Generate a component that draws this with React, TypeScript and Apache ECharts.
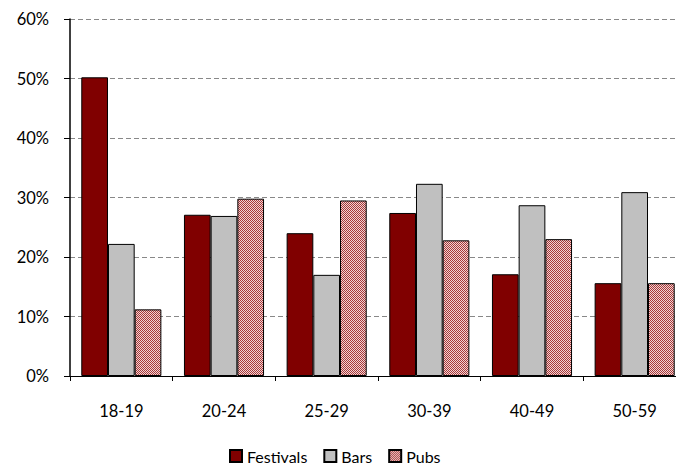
import React, { useEffect, useRef } from "react";
import * as echarts from "echarts";

const categories = ["18-19", "20-24", "25-29", "30-39", "40-49", "50-59"];
const festivals = [50.2, 27.1, 24.0, 27.4, 17.1, 15.6];
const bars = [22.2, 26.9, 17.0, 32.3, 28.7, 30.9];
const pubs = [11.2, 29.8, 29.5, 22.8, 23.0, 15.6];
const yTicks = [0, 10, 20, 30, 40, 50, 60];

function makePattern(): any {
  const c = document.createElement("canvas");
  c.width = 2;
  c.height = 2;
  const ctx = c.getContext("2d")!;
  ctx.fillStyle = "#f0d4d4";
  ctx.fillRect(0, 0, 2, 2);
  ctx.fillStyle = "#a83838";
  ctx.fillRect(0, 0, 1, 1);
  ctx.fillRect(1, 1, 1, 1);
  return { image: c, repeat: "repeat" };
}

export default function App() {
  const ref = useRef<HTMLDivElement>(null);
  useEffect(() => {
    const chart = echarts.init(ref.current!, undefined, { renderer: "svg" });
    const font = "Lato, 'Open Sans', sans-serif";
    const pattern = makePattern();
    chart.setOption({
      animation: false,
      textStyle: { fontFamily: font },
      grid: {
        left: 70,
        top: 19,
        width: 616,
        height: 357,
        containLabel: false,
        outerBoundsMode: "none",
      },
      legend: {
        top: 448,
        left: 229,
        padding: 0,
        icon: "rect",
        itemWidth: 12,
        itemHeight: 12,
        itemGap: 16,
        textStyle: { fontSize: 16, color: "#000", fontFamily: font },
        data: ["Festivals", "Bars", "Pubs"],
      },
      xAxis: {
        type: "category",
        data: categories,
        axisLine: { lineStyle: { color: "#000", width: 1 } },
        axisTick: { show: true, length: 5, lineStyle: { color: "#000" } },
        axisLabel: { color: "#000", fontSize: 16.5, margin: 26, fontFamily: font },
      },
      yAxis: {
        type: "value",
        min: 0,
        max: 60,
        interval: 10,
        axisLine: { show: true, lineStyle: { color: "#000", width: 1.5 } },
        axisTick: { show: true, length: 6, lineStyle: { color: "#000" } },
        axisLabel: {
          color: "#000",
          fontSize: 16.5,
          margin: 21,
          fontFamily: font,
          formatter: (v: number) => (yTicks.includes(v) ? v + "%" : ""),
        },
        splitLine: { show: true, lineStyle: { color: "#888", type: [5, 3], width: 1.2 } },
      },
      series: [
        {
          name: "Festivals",
          type: "bar",
          data: festivals,
          barGap: "0%",
          barCategoryGap: "22%",
          itemStyle: { color: "#800000", borderColor: "#000", borderWidth: 1 },
        },
        {
          name: "Bars",
          type: "bar",
          data: bars,
          barGap: "0%",
          barCategoryGap: "22%",
          itemStyle: { color: "#c0c0c0", borderColor: "#000", borderWidth: 1 },
        },
        {
          name: "Pubs",
          type: "bar",
          data: pubs,
          barGap: "0%",
          barCategoryGap: "22%",
          itemStyle: { color: pattern, borderColor: "#000", borderWidth: 1 },
        },
      ],
    });
    return () => chart.dispose();
  }, []);
  return (
    <div
      ref={ref}
      style={{ position: "absolute", left: 0, top: 0, width: 676, height: 465, overflow: "hidden" }}
    />
  );
}
